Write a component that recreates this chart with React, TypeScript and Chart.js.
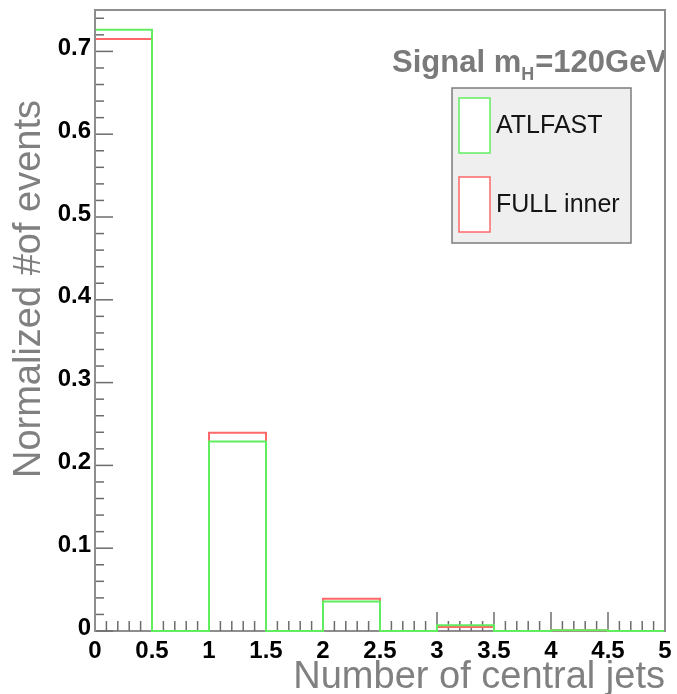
import React, { useEffect, useRef } from "react";
import { Chart, registerables } from "chart.js";

Chart.register(...registerables);

// Histogram binning: lower edges of each 0.5-wide bin, plus the last upper edge
const binLowEdges = [0, 0.5, 1, 1.5, 2, 2.5, 3, 3.5, 4, 4.5];
const binUpperEdge = 5;

// Normalized bin contents
const atlfastValues = [0.726, 0, 0.229, 0, 0.0355, 0, 0.0068, 0, 0.001, 0];
const fullInnerValues = [0.715, 0, 0.2395, 0, 0.039, 0, 0.0048, 0, 0.001, 0];

const seriesLabels = ["ATLFAST", "FULL inner"];

// Axis ticks
const xTickValues = [0, 0.5, 1, 1.5, 2, 2.5, 3, 3.5, 4, 4.5, 5];
const xTickLabels = ["0", "0.5", "1", "1.5", "2", "2.5", "3", "3.5", "4", "4.5", "5"];
const yTickValues = [0, 0.1, 0.2, 0.3, 0.4, 0.5, 0.6, 0.7];
const yTickLabels = ["0", "0.1", "0.2", "0.3", "0.4", "0.5", "0.6", "0.7"];
const xMinorStep = 0.1;
const yMinorStep = 0.02;

const xTitle = "Number of central jets";
const yTitle = "Normalized #of events";
const signalMain = "Signal m";
const signalSub = "H";
const signalTail = "=120GeV";

const GREEN = "rgb(96, 238, 96)";
const RED = "rgb(255, 104, 104)";
const AXIS_GRAY = "#8e8e8e";
const TICK_GRAY = "#6c6c6c";

// Step outline of a histogram: baseline -> each bin top -> baseline
function outline(values: number[]) {
  const pts: { x: number; y: number }[] = [{ x: binLowEdges[0], y: 0 }];
  values.forEach((v, i) => pts.push({ x: binLowEdges[i], y: v }));
  pts.push({ x: binUpperEdge, y: values[values.length - 1] });
  pts.push({ x: binUpperEdge, y: 0 });
  return pts;
}

function seg(ctx: CanvasRenderingContext2D, x1: number, y1: number, x2: number, y2: number) {
  ctx.beginPath();
  ctx.moveTo(x1, y1);
  ctx.lineTo(x2, y2);
  ctx.stroke();
}

// Keep the plot frame fixed: no extra room reserved for overhanging tick labels
function noLabelPadding(s: any) {
  s.paddingTop = 0;
  s.paddingBottom = 0;
  s.paddingLeft = 0;
  s.paddingRight = 0;
}

const histDecor = {
  id: "histDecor",
  beforeDatasetsDraw(chart: any) {
    const { ctx, chartArea: a, scales } = chart;
    const x = scales.x;
    ctx.save();
    // bottom axis
    ctx.strokeStyle = AXIS_GRAY;
    ctx.lineWidth = 2;
    seg(ctx, a.left, a.bottom, a.right, a.bottom);
    // x ticks, pointing into the frame
    ctx.strokeStyle = TICK_GRAY;
    ctx.lineWidth = 1.5;
    const nx = Math.round((binUpperEdge - binLowEdges[0]) / xMinorStep);
    for (let k = 0; k <= nx; k++) {
      const px = x.getPixelForValue(binLowEdges[0] + k * xMinorStep);
      const len = k % 5 === 0 ? 19 : 10;
      seg(ctx, px, a.bottom, px, a.bottom - len);
    }
    ctx.restore();
  },
  afterDatasetsDraw(chart: any) {
    const { ctx, chartArea: a, scales } = chart;
    const y = scales.y;
    ctx.save();

    // y ticks
    ctx.strokeStyle = TICK_GRAY;
    ctx.lineWidth = 1.5;
    const ny = Math.floor(y.max / yMinorStep + 1e-6);
    for (let k = 0; k <= ny; k++) {
      const py = y.getPixelForValue(k * yMinorStep);
      const len = k % 5 === 0 ? 18 : 9;
      seg(ctx, a.left, py, a.left + len, py);
    }

    // signal label, clipped by the frame
    ctx.save();
    ctx.beginPath();
    ctx.rect(a.left, a.top, a.right - a.left, a.bottom - a.top);
    ctx.clip();
    ctx.fillStyle = "#7a7a7a";
    ctx.textBaseline = "alphabetic";
    ctx.textAlign = "left";
    let tx = 392;
    const ty = 72;
    ctx.font = "bold 31px 'Liberation Sans', Arial, sans-serif";
    ctx.fillText(signalMain, tx, ty);
    tx += ctx.measureText(signalMain).width;
    ctx.font = "bold 18px 'Liberation Sans', Arial, sans-serif";
    ctx.fillText(signalSub, tx, ty + 8);
    tx += ctx.measureText(signalSub).width + 1;
    ctx.font = "bold 31px 'Liberation Sans', Arial, sans-serif";
    ctx.fillText(signalTail, tx, ty);
    ctx.restore();

    // frame: left axis, top and right edges
    ctx.strokeStyle = AXIS_GRAY;
    ctx.lineWidth = 2;
    seg(ctx, a.left, a.bottom + 1, a.left, a.top - 1);
    seg(ctx, a.left, a.top, a.right, a.top);
    seg(ctx, a.right, a.top - 1, a.right, a.bottom + 1);

    // legend box
    const lx = 452, ly = 88, lw = 179, lh = 155;
    ctx.fillStyle = "#efefef";
    ctx.fillRect(lx, ly, lw, lh);
    ctx.strokeStyle = "#7c7c7c";
    ctx.lineWidth = 1.5;
    ctx.strokeRect(lx, ly, lw, lh);
    const entries = chart.data.datasets.map((d: any) => ({ label: d.label, color: d.borderColor }));
    entries.forEach((e: any, i: number) => {
      const top = 98 + i * 79;
      ctx.fillStyle = "#ffffff";
      ctx.fillRect(459, top, 31, 55);
      ctx.strokeStyle = e.color;
      ctx.lineWidth = 1.5;
      ctx.strokeRect(459, top, 31, 55);
      ctx.fillStyle = "#151515";
      ctx.font = "25px 'Liberation Sans', Arial, sans-serif";
      ctx.textAlign = "left";
      ctx.textBaseline = "middle";
      ctx.fillText(e.label, 496, top + 28);
    });

    // axis titles
    ctx.fillStyle = "#808080";
    ctx.font = "38px 'Liberation Sans', Arial, sans-serif";
    ctx.textAlign = "right";
    ctx.textBaseline = "alphabetic";
    ctx.fillText(xTitle, 665, 688);

    ctx.save();
    ctx.translate(40, 289);
    ctx.rotate(-Math.PI / 2);
    ctx.textAlign = "center";
    ctx.fillText(yTitle, 0, 0);
    ctx.restore();

    ctx.restore();
  },
};

export default function App() {
  const canvasRef = useRef<HTMLCanvasElement | null>(null);

  useEffect(() => {
    const canvas = canvasRef.current;
    if (!canvas) return;
    const tickFont = { family: "'Liberation Sans', Arial, sans-serif", weight: "bold" as const, size: 24 };
    const chart = new Chart(canvas, {
      type: "line",
      data: {
        datasets: [
          {
            label: seriesLabels[0],
            data: outline(atlfastValues),
            borderColor: GREEN,
            borderWidth: 2,
            stepped: "before",
            pointRadius: 0,
            fill: false,
            tension: 0,
            clip: 4,
          },
          {
            label: seriesLabels[1],
            data: outline(fullInnerValues),
            borderColor: RED,
            borderWidth: 2,
            stepped: "before",
            pointRadius: 0,
            fill: false,
            tension: 0,
            clip: 4,
          },
        ],
      },
      options: {
        animation: false,
        responsive: false,
        devicePixelRatio: 1,
        parsing: false,
        layout: { padding: { top: 10, right: 12, left: 0, bottom: 0 } },
        plugins: {
          legend: { display: false },
          tooltip: { enabled: false },
          title: { display: false },
        },
        scales: {
          x: {
            type: "linear",
            min: 0,
            max: 5,
            grid: { display: false, drawTicks: false },
            border: { display: false },
            afterBuildTicks: (s: any) => {
              s.ticks = xTickValues.map((v) => ({ value: v }));
            },
            afterFit: (s: any) => {
              s.height = 63;
              noLabelPadding(s);
            },
            ticks: {
              autoSkip: false,
              maxRotation: 0,
              padding: 6,
              color: "#000",
              font: tickFont,
              callback: (_v: any, i: number) => xTickLabels[i],
            },
          },
          y: {
            type: "linear",
            min: 0,
            max: 0.75,
            grid: { display: false, drawTicks: false },
            border: { display: false },
            afterBuildTicks: (s: any) => {
              s.ticks = yTickValues.map((v) => ({ value: v }));
            },
            afterFit: (s: any) => {
              s.width = 95;
              noLabelPadding(s);
            },
            ticks: {
              autoSkip: false,
              padding: 4,
              labelOffset: -3,
              color: "#000",
              font: tickFont,
              callback: (_v: any, i: number) => yTickLabels[i],
            },
          },
        },
      },
      plugins: [histDecor],
    } as any);
    return () => chart.destroy();
  }, []);

  return (
    <div style={{ position: "fixed", left: 0, top: 0, width: 677, height: 694, background: "#fff" }}>
      <canvas ref={canvasRef} width={677} height={694} style={{ display: "block" }} />
    </div>
  );
}
